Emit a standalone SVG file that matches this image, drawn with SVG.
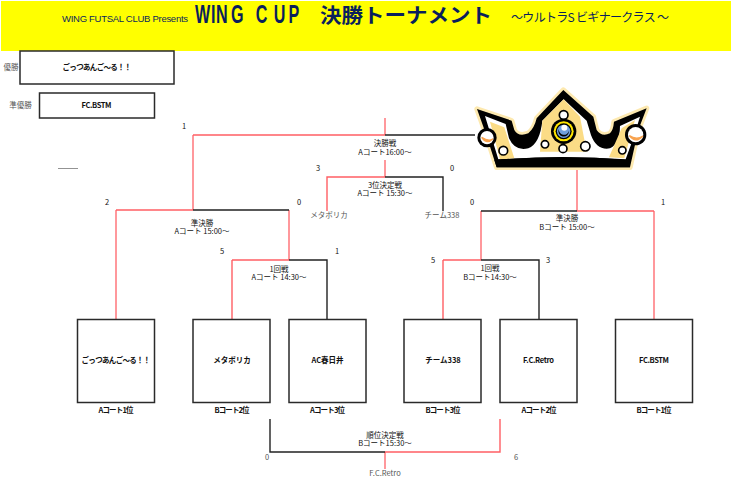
<svg xmlns="http://www.w3.org/2000/svg" width="731" height="478" viewBox="0 0 731 478">
<style>
text{font-family:"Noto Sans CJK JP","Liberation Sans",sans-serif;font-size:7.5px;fill:#111;text-anchor:middle}
.b{font-weight:700}
.g{fill:#555}
.box{fill:#fff;stroke:#2a2a2a;stroke-width:1.5}
.r{fill:none;stroke:#ff5f64;stroke-width:1.4}
.p{fill:none;stroke:#ff7f84;stroke-width:1.6}
.k{fill:none;stroke:#222;stroke-width:1.4}
.j{fill:#fff;stroke:#000;stroke-width:5}
</style>
<rect x="1" y="1" width="730" height="50" fill="#ffff00"/>
<g id="title">
<text x="125" y="21.500" style="font-family:'Liberation Sans',sans-serif;font-size:9.500px;fill:#0a1f5c" textLength="126" lengthAdjust="spacing">WING FUTSAL CLUB Presents</text>
<text transform="translate(195 22.500) scale(.62 1)" x="0 26 34 58 98 98 127 151" y="0" style="font-family:'Liberation Sans',sans-serif;font-size:26px;font-weight:700;fill:#0a1f5c;text-anchor:start">WING CUP</text>
<text x="406" y="23" style="font-size:20px;font-weight:700;fill:#0a1f5c" textLength="172" lengthAdjust="spacingAndGlyphs">決勝トーナメント</text>
<text x="590" y="22" style="font-size:12px;fill:#0a1f5c" textLength="158" lengthAdjust="spacing">～ウルトラS ビギナークラス ～</text>
</g>
<g id="connectors">
<path class="p" d="M385 118V135M385 160V177M577 168V211M289 210V260M481 211V260M654 211V319M116 210V319M193 135V210M385 452V469"/>
<path class="r" d="M193 135H385M116 210H193M232 260H289M232 260V319M327 211V177H385M577 211H654M443 260H481M443 260V319M385 452H500V419"/>
<path class="k" d="M385 135H475M193 210H289M289 260H327V319M385 177H443V211M481 211H577M481 260H539V319M270 419V452H385"/>
<path d="M58 168.500H78" stroke="#777" stroke-width=".8" fill="none"/>
</g>
<g id="crown" transform="translate(465 80) scale(.3333)">
<path d="M36 87L140 122L148 150Q160 172 190 160Q208 145 215 115L295 30L385 110L395 150Q410 172 435 160Q445 150 447 125L545 85L520 150L495 262H95L62 160Z" fill="#fde9b0" stroke="#fde9b0" stroke-width="16" stroke-linejoin="round"/>
<path d="M36 87L140 122L148 150Q160 172 190 160Q208 145 215 115L295 30L385 110L395 150Q410 172 435 160Q445 150 447 125L545 85L520 150L495 262H95L62 160Z" fill="#000"/>
<path d="M60 108L122 132L132 175Q150 215 190 205Q225 190 232 122L296 58L365 122L378 165Q395 212 435 205Q465 190 465 138L525 110L505 175L482 238Q295 225 100 238Z" fill="#fff"/>
<path d="M232 122L296 58L345 110L365 215H225Z" fill="#fbdc86"/>
<path d="M75 125L118 142L148 235L105 238Z" fill="#fbdc86"/>
<path d="M510 120L470 145L432 232L478 235Z" fill="#fbdc86"/>
<path d="M160 170Q180 175 200 160L190 185Q170 190 160 170ZM395 165Q415 180 440 165L430 185Q405 190 395 165Z" fill="#000"/>
<path d="M95 262L88 240Q295 222 492 240L495 262Z" fill="#000"/>
<circle class="j" cx="296" cy="105" r="13"/>
<circle cx="296" cy="154" r="38" fill="#000"/>
<circle cx="296" cy="154" r="30" fill="#ffe600"/>
<circle cx="296" cy="154" r="24" fill="#000"/>
<circle cx="296" cy="154" r="20" fill="#6f9fdc"/>
<path d="M282 146A16 16 0 1 0 312 152A13 13 0 0 1 282 146Z" fill="#000"/>
<circle cx="298" cy="143" r="9" fill="#fff"/>
<circle class="j" cx="240" cy="193" r="11"/>
<circle class="j" cx="294" cy="206" r="12"/>
<circle class="j" cx="361" cy="199" r="14"/>
<circle class="j" cx="115" cy="212" r="13"/>
<circle class="j" cx="472" cy="211" r="11"/>
<circle cx="66" cy="173" r="29" fill="#000"/>
<circle cx="66" cy="173" r="20" fill="#fff"/>
<path d="M50 172Q65 195 84 176Q72 186 50 172Z" fill="#f8a34f" stroke="#f8a34f" stroke-width="4"/>
<circle cx="512" cy="164" r="32" fill="#000"/>
<circle cx="512" cy="164" r="23" fill="#fff"/>
<path d="M493 167Q512 192 534 168Q515 182 493 167Z" fill="#f8a34f" stroke="#f8a34f" stroke-width="4"/>
</g>
<g id="winner"><rect class="box" x="20" y="51" width="154" height="33"/><text x="97" y="69.500" class="b" textLength="69" lengthAdjust="spacing">ごっつあんご～る！！</text><text x="11" y="69.500" class="g">優勝</text></g>
<g id="runner-up"><rect class="box" x="39.500" y="93" width="115" height="25"/><text x="96.500" y="108" class="b" textLength="30" lengthAdjust="spacing">FC.BSTM</text><text x="20.500" y="108" class="g">準優勝</text></g>
<g id="t1"><rect class="box" x="77.500" y="319.500" width="77" height="83"/><text x="116" y="363" class="b" textLength="69" lengthAdjust="spacing">ごっつあんご～る！！</text><text x="116" y="413" class="b" textLength="35">Aコート1位</text></g>
<g id="t2"><rect class="box" x="193" y="319.500" width="77" height="83"/><text x="232" y="363" class="b">メタボリカ</text><text x="232" y="413" class="b" textLength="35">Bコート2位</text></g>
<g id="t3"><rect class="box" x="289" y="319.500" width="77" height="83"/><text x="327.500" y="363" class="b">AC春日井</text><text x="327.500" y="413" class="b" textLength="35">Aコート3位</text></g>
<g id="t4"><rect class="box" x="404" y="319.500" width="77" height="83"/><text x="443" y="363" class="b">チーム338</text><text x="443" y="413" class="b" textLength="35">Bコート3位</text></g>
<g id="t5"><rect class="box" x="500" y="319.500" width="77" height="83"/><text x="538.500" y="363" class="b" textLength="31" lengthAdjust="spacing">F.C.Retro</text><text x="539" y="413" class="b" textLength="35">Aコート2位</text></g>
<g id="t6"><rect class="box" x="615.500" y="319.500" width="77" height="83"/><text x="654" y="363" class="b" textLength="30" lengthAdjust="spacing">FC.BSTM</text><text x="654" y="413" class="b" textLength="35">Bコート1位</text></g>
<g id="labels">
<text y="146"><tspan x="385">決勝戦</tspan><tspan x="385" dy="8.500">Aコート16:00～</tspan></text>
<text y="188"><tspan x="385">3位決定戦</tspan><tspan x="385" dy="8">Aコート 15:30～</tspan></text>
<text y="226"><tspan x="202">準決勝</tspan><tspan x="202" dy="8">Aコート 15:00～</tspan></text>
<text y="221"><tspan x="567">準決勝</tspan><tspan x="567" dy="8.500">Bコート 15:00～</tspan></text>
<text y="272"><tspan x="279">1回戦</tspan><tspan x="279" dy="8">Aコート 14:30～</tspan></text>
<text y="271"><tspan x="490">1回戦</tspan><tspan x="490" dy="8.500">Bコート14:30～</tspan></text>
<text y="438"><tspan x="385">順位決定戦</tspan><tspan x="385" dy="8">Bコート15:30～</tspan></text>
<text x="184" y="129">1</text><text x="318" y="171">3</text><text x="452" y="171">0</text>
<text x="107" y="205">2</text><text x="299" y="205">0</text><text x="222" y="254">5</text><text x="337" y="254">1</text>
<text x="472" y="205">0</text><text x="663" y="205">1</text><text x="433" y="263">5</text><text x="548" y="263">3</text>
<text x="267" y="460" class="g">0</text><text x="516" y="460" class="g">6</text>
<text x="329" y="218" class="g">メタボリカ</text><text x="442" y="218" class="g">チーム338</text>
<text x="385" y="476" class="g">F.C.Retro</text>
</g>
</svg>
